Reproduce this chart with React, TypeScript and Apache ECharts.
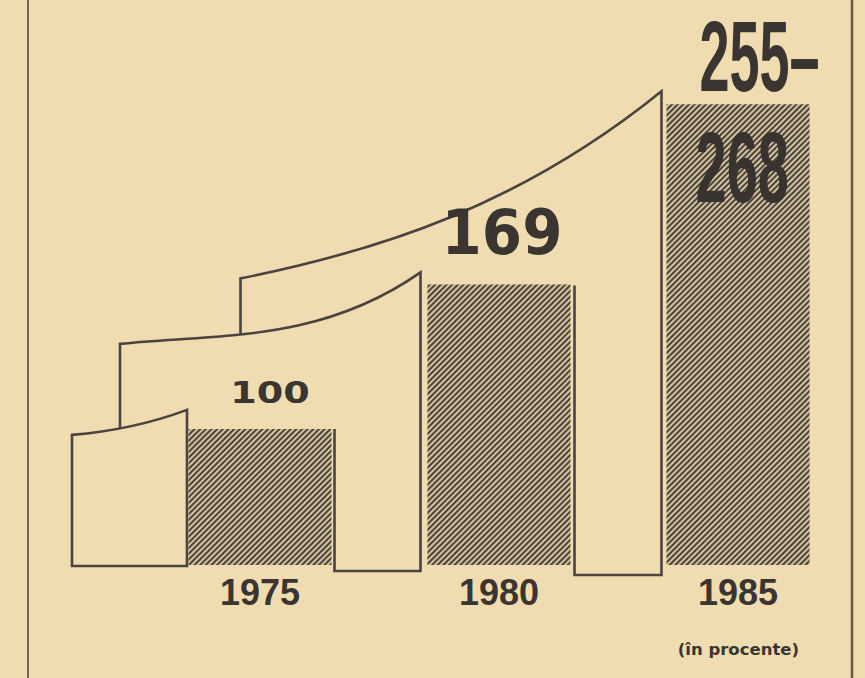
import React, { useEffect, useRef } from "react";
import * as echarts from "echarts";

// ---- data ----
const years = ["1975", "1980", "1985"];
const values = [100, 169, 255];
const valueLabels = ["100", "169", "255–"];
const upperLabel = "268";
const unitNote = "(în procente)";

// ---- layout / style ----
const W = 865;
const H = 678;
const BG = "#efdcb1";
const INK = "#3a3530";
const LINE = "#4a4340";
const Y_MIN = 35;
const Y_MAX = 290;
const BAR_W = 143;

type P = [number, number];
type Curve = { p0: P; p1: P; p2: P; p3: P };

function makeCurve(p0: P, p3: P, s0: number, s1: number): Curve {
  const dx = p3[0] - p0[0];
  const p1: P = [p0[0] + dx / 3, p0[1] + (s0 * dx) / 3];
  const p2: P = [p3[0] - dx / 3, p3[1] - (s1 * dx) / 3];
  return { p0, p1, p2, p3 };
}
function bez(c: Curve, t: number): P {
  const u = 1 - t;
  const a = u * u * u, b = 3 * u * u * t, d = 3 * u * t * t, e = t * t * t;
  return [
    a * c.p0[0] + b * c.p1[0] + d * c.p2[0] + e * c.p3[0],
    a * c.p0[1] + b * c.p1[1] + d * c.p2[1] + e * c.p3[1],
  ];
}
function curveYAt(c: Curve, x: number): number {
  let lo = 0, hi = 1;
  for (let k = 0; k < 40; k++) {
    const m = (lo + hi) / 2;
    if (bez(c, m)[0] < x) lo = m; else hi = m;
  }
  return bez(c, (lo + hi) / 2)[1];
}
const f = (n: number) => n.toFixed(2);
const cpath = (c: Curve) =>
  `C ${f(c.p1[0])} ${f(c.p1[1])} ${f(c.p2[0])} ${f(c.p2[1])} ${f(c.p3[0])} ${f(c.p3[1])}`;

export default function App() {
  const ref = useRef<HTMLDivElement>(null);
  useEffect(() => {
    document.body.style.margin = "0";
    document.body.style.background = BG;
    const chart = echarts.init(ref.current as HTMLDivElement, null, { renderer: "svg" });

    const anchors = (api: any) => {
      const B = api.coord([0, Y_MIN])[1];
      const cx = years.map((_, i) => api.coord([i, Y_MIN])[0]);
      const L = cx.map((x) => x - BAR_W / 2);
      const R = cx.map((x) => x + BAR_W / 2);
      const T = values.map((v, i) => api.coord([i, v])[1]);
      return { B, cx, L, R, T };
    };

    const renderSheets = (params: any, api: any) => {
      if (params.dataIndex !== 0) return null;
      const { B, L, R, T } = anchors(api);
      const st = { fill: "none", stroke: LINE, lineWidth: 2.6, lineJoin: "miter" };
      // sheet 1
      const s1 = makeCurve([L[0] - 116.5, T[0] + 6], [L[0] - 1.5, T[0] - 19], -0.08, -0.37);
      const d1 = `M ${f(s1.p0[0])} ${f(s1.p0[1])} ${cpath(s1)} L ${f(s1.p3[0])} ${f(B + 1)} L ${f(s1.p0[0])} ${f(B + 1)} Z`;
      // sheet 2
      const x2 = L[0] - 68.5;
      const s2 = makeCurve([x2, T[0] - 85], [L[1] - 7, T[1] - 12], -0.1, -0.7);
      const y2b = curveYAt(s1, x2);
      const d2 = `M ${f(x2)} ${f(y2b)} L ${f(x2)} ${f(s2.p0[1])} ${cpath(s2)} L ${f(s2.p3[0])} ${f(B + 6)} L ${f(R[0] + 3)} ${f(B + 6)} L ${f(R[0] + 3)} ${f(T[0])}`;
      // sheet 3
      const x3 = L[0] + 52;
      const s3 = makeCurve([x3, T[1] - 6], [L[2] - 5, T[2] - 13], -0.2, -0.81);
      const y3b = curveYAt(s2, x3);
      const d3 = `M ${f(x3)} ${f(y3b)} L ${f(x3)} ${f(s3.p0[1])} ${cpath(s3)} L ${f(s3.p3[0])} ${f(B + 10)} L ${f(R[1] + 4)} ${f(B + 10)} L ${f(R[1] + 4)} ${f(T[1] + 1)}`;
      return {
        type: "group",
        children: [d3, d2, d1].map((d) => ({ type: "path", shape: { pathData: d }, style: st })),
      };
    };

    const renderLabels = (params: any, api: any) => {
      const i = params.dataIndex;
      const { L, cx, T } = anchors(api);
      if (i === 0) {
        return {
          type: "text", x: cx[0] + 10, y: T[0] - 36, scaleX: 1.27,
          style: { text: valueLabels[0], fontSize: 30, fontFamily: "DejaVu Sans", fontWeight: "bold", fill: INK, align: "center", verticalAlign: "middle" },
        };
      }
      if (i === 1) {
        return {
          type: "text", x: cx[1] + 3, y: T[1] - 52, scaleX: 0.92,
          style: { text: valueLabels[1], fontSize: 63, fontFamily: "DejaVu Sans", fontWeight: "bold", fill: INK, align: "center", verticalAlign: "middle" },
        };
      }
      return {
        type: "group",
        children: [
          {
            type: "text", x: L[2] + 33, y: T[2] - 48, scaleY: 1.86,
            style: { text: valueLabels[2], fontSize: 54, fontFamily: "Liberation Sans", fontWeight: "bold", fill: INK, align: "left", verticalAlign: "middle" },
          },
          {
            type: "text", x: L[2] + 29, y: T[2] + 62, scaleY: 1.8,
            style: { text: upperLabel, fontSize: 56, fontFamily: "Liberation Sans", fontWeight: "bold", fill: "#38332e", align: "left", verticalAlign: "middle" },
          },
        ],
      };
    };

    chart.setOption({
      animation: false,
      backgroundColor: BG,
      title: {
        text: unitNote,
        right: 66,
        top: 641,
        padding: 0,
        textStyle: { fontSize: 16.5, fontWeight: "bold", fontFamily: "DejaVu Sans", color: INK },
      },
      grid: { left: 140.5, right: 7.5, top: 31, bottom: 113 },
      xAxis: {
        type: "category",
        data: years,
        axisLine: { show: false },
        axisTick: { show: false },
        axisLabel: { fontSize: 36, fontWeight: "bold", fontFamily: "Liberation Sans", color: INK, margin: 9 },
      },
      yAxis: { type: "value", min: Y_MIN, max: Y_MAX, show: false, splitLine: { show: false } },
      graphic: [
        { type: "line", shape: { x1: 28, y1: 0, x2: 28, y2: H }, style: { stroke: "#716555", lineWidth: 2 } },
        { type: "line", shape: { x1: 852, y1: 0, x2: 852, y2: H }, style: { stroke: "#665a4c", lineWidth: 2.5 } },
      ],
      series: [
        {
          type: "custom",
          name: "sheets",
          data: [[0, values[0]]],
          renderItem: renderSheets,
          clip: false,
          silent: true,
          z: 1,
        },
        {
          type: "bar",
          name: "index",
          data: values,
          barWidth: BAR_W,
          z: 3,
          itemStyle: {
            color: "#d2c29d",
            decal: {
              symbol: "rect",
              symbolSize: 1,
              dashArrayX: [1, 0],
              dashArrayY: [2, 2],
              rotation: -Math.PI / 4,
              color: "#4b443d",
            },
          },
        },
        {
          type: "custom",
          name: "labels",
          data: values.map((v, i) => [i, v]),
          renderItem: renderLabels,
          clip: false,
          silent: true,
          z: 5,
        },
      ],
    });
    return () => chart.dispose();
  }, []);
  return <div ref={ref} style={{ width: W, height: H, background: BG }} />;
}
